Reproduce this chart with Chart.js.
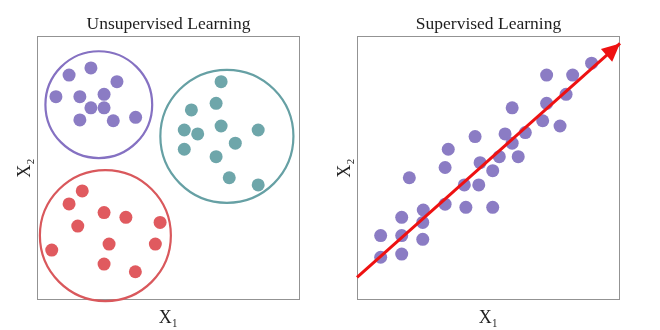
<!DOCTYPE html>
<html><head><meta charset="utf-8">
<script src="https://cdn.jsdelivr.net/npm/chart.js@4.4.1/dist/chart.umd.min.js"></script>
<style>
html,body{margin:0;padding:0;background:#fff;}
#wrap{position:relative;width:660px;height:330px;overflow:hidden;}
canvas{position:absolute;top:0;}
</style></head><body>
<div id="wrap">
<canvas id="c1" width="330" height="330" style="left:0"></canvas>
<canvas id="c2" width="330" height="330" style="left:330px"></canvas>
</div>
<script>
// ---------- Data (axis units 0..10) ----------
const titles = ['Unsupervised Learning', 'Supervised Learning'];
const xLabel = 'X₁';
const yLabel = 'X₂';

// Unsupervised: three clusters
const purpleX = [1.22, 2.05, 3.04, 0.72, 1.63, 2.55, 2.05, 2.55, 1.63, 2.90, 3.75];
const purpleY = [8.52, 8.79, 8.27, 7.70, 7.70, 7.79, 7.28, 7.28, 6.82, 6.79, 6.92];
const tealX = [7.00, 6.81, 5.87, 7.00, 5.60, 6.11, 8.41, 7.54, 5.60, 6.81, 7.31, 8.41];
const tealY = [8.27, 7.45, 7.20, 6.59, 6.44, 6.29, 6.44, 5.94, 5.71, 5.43, 4.63, 4.36];
const redX = [1.72, 1.22, 2.55, 3.38, 4.68, 1.55, 2.74, 4.50, 0.56, 2.55, 3.74];
const redY = [4.13, 3.64, 3.31, 3.13, 2.94, 2.80, 2.12, 2.12, 1.89, 1.36, 1.07];
// cluster outlines: centre and radius in axis units
const clusterCX = [2.35, 7.22, 2.60];
const clusterCY = [7.40, 6.20, 2.44];
const clusterR  = [2.03, 2.53, 2.49];

// Supervised: labelled points and fitted trend arrow
const supX = [8.92, 7.21, 8.20, 7.95, 7.21, 5.90, 7.06, 7.72, 6.40, 5.63, 4.49, 5.90, 3.47, 5.41, 6.13, 4.68,
              3.35, 5.16, 1.99, 4.08, 4.63, 3.35, 4.14, 5.16, 2.52, 1.70, 2.50, 0.90, 1.70, 2.50, 0.90, 1.70];
const supY = [8.97, 8.52, 8.52, 7.79, 7.45, 7.28, 6.79, 6.59, 6.34, 6.29, 6.19, 5.94, 5.71, 5.43, 5.43, 5.20,
              5.02, 4.90, 4.63, 4.36, 4.36, 3.63, 3.51, 3.51, 3.41, 3.13, 2.94, 2.44, 2.44, 2.30, 1.62, 1.74];
const arrowX = [0, 10];
const arrowY = [0.86, 9.72];

// ---------- helpers ----------
const zip = (xs, ys) => xs.map((x, i) => ({x, y: ys[i]}));
const FONT = '"Liberation Serif", "DejaVu Serif", serif';
const TEXT = '#1e1e1e';

const decor = {
  id: 'decor',
  beforeDatasetsDraw(chart) {
    const {ctx, chartArea: a} = chart;
    ctx.save();
    ctx.strokeStyle = '#939393';
    ctx.lineWidth = 1;
    ctx.strokeRect(Math.round(a.left) + 0.5, Math.round(a.top) + 0.5,
                   Math.round(a.width) - 1, Math.round(a.height) - 1);
    ctx.restore();
  },
  afterDraw(chart, args, opts) {
    const {ctx, chartArea: a} = chart;
    const cx = (a.left + a.right) / 2, cy = (a.top + a.bottom) / 2;
    ctx.save();
    ctx.fillStyle = TEXT;
    ctx.textAlign = 'center';
    ctx.textBaseline = 'alphabetic';
    ctx.font = '17.5px ' + FONT;
    ctx.fillText(opts.title, cx, a.top - 7);
    ctx.font = '18px ' + FONT;
    ctx.fillText(xLabel, cx, a.bottom + 23);
    ctx.translate(a.left - 7, cy);
    ctx.rotate(-Math.PI / 2);
    ctx.fillText(yLabel, 0, 0);
    ctx.restore();
  },
  afterDatasetsDraw(chart) {
    chart.data.datasets.forEach((ds, i) => {
      if (!ds.isArrow) return;
      const pts = chart.getDatasetMeta(i).data;
      const p0 = pts[0], p1 = pts[pts.length - 1];
      const ang = Math.atan2(p1.y - p0.y, p1.x - p0.x);
      const L = 18, W = 8.5;
      const ctx = chart.ctx;
      ctx.save();
      ctx.translate(p1.x, p1.y);
      ctx.rotate(ang);
      ctx.fillStyle = ds.borderColor;
      ctx.beginPath();
      ctx.moveTo(0, 0);
      ctx.lineTo(-L, -W);
      ctx.lineTo(-L, W);
      ctx.closePath();
      ctx.fill();
      ctx.restore();
    });
  }
};

function opts(pad, title) {
  return {
    responsive: false, animation: false, events: [],
    layout: {padding: pad},
    plugins: {legend: {display: false}, tooltip: {enabled: false}, decor: {title}},
    scales: {
      x: {type: 'linear', min: 0, max: 10, display: false},
      y: {type: 'linear', min: 0, max: 10, display: false}
    }
  };
}
const dot = (data, color) => ({
  type: 'scatter', data, pointRadius: 6.5, pointHoverRadius: 6.5,
  pointBorderWidth: 0, backgroundColor: color, borderColor: color, clip: false
});

new Chart(document.getElementById('c1'), {
  type: 'scatter',
  data: {datasets: [
    dot(zip(purpleX, purpleY), '#8b7cc4'),
    dot(zip(tealX, tealY), '#6ea6aa'),
    dot(zip(redX, redY), '#e05a5f'),
    {
      type: 'scatter', data: zip(clusterCX, clusterCY),
      pointRadius: c => c.chart.scales.x.getPixelForValue(clusterR[c.dataIndex]) - c.chart.scales.x.getPixelForValue(0),
      backgroundColor: 'rgba(0,0,0,0)',
      borderColor: ['#8571c2', '#66a0a4', '#d9585c'],
      pointBorderWidth: 2.2, clip: false
    }
  ]},
  options: opts({left: 37, right: 30, top: 36, bottom: 30}, titles[0]),
  plugins: [decor]
});

new Chart(document.getElementById('c2'), {
  type: 'scatter',
  data: {datasets: [
    {
      type: 'line', isArrow: true, data: zip(arrowX, arrowY),
      borderColor: '#ee1111', borderWidth: 3, pointRadius: 0, fill: false, clip: false
    },
    dot(zip(supX, supY), '#8b7cc4')
  ]},
  options: opts({left: 27, right: 40, top: 36, bottom: 30}, titles[1]),
  plugins: [decor]
});
</script>
</body></html>
